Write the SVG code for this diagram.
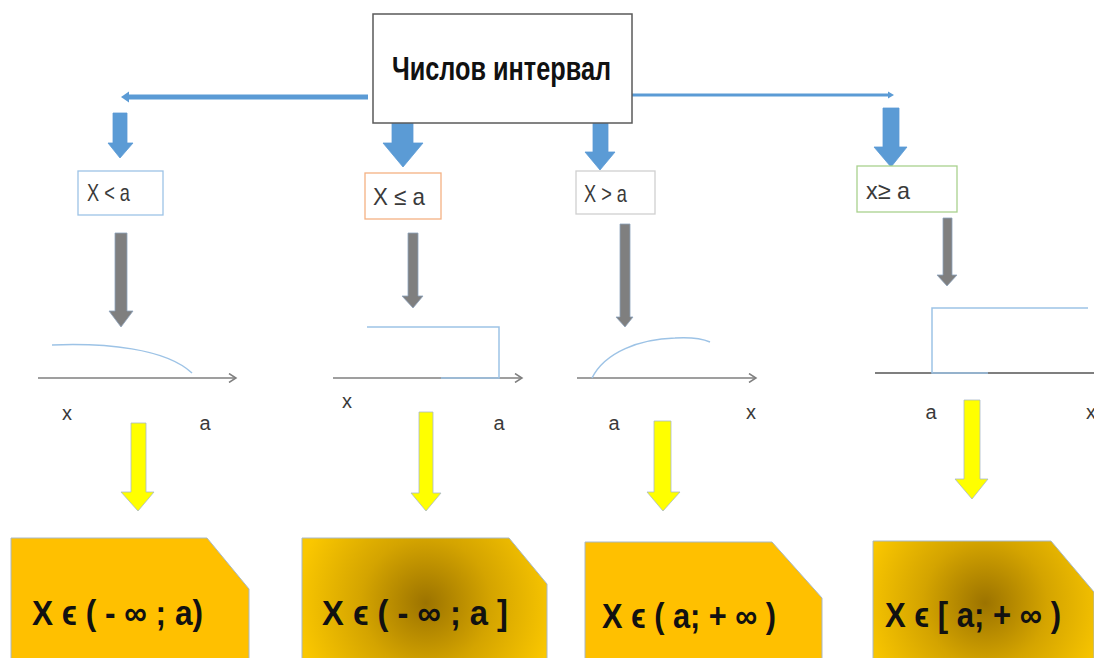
<svg xmlns="http://www.w3.org/2000/svg" width="1094" height="658" viewBox="0 0 1094 658">
<style>
.blue{fill:#5b9bd5;stroke:#5b9bd5;stroke-width:0.8}
.gray{fill:#7f7f7f;stroke:#8ea3bd;stroke-width:0.8}
.yel{fill:#ffff00;stroke:#a9b9c9;stroke-width:0.8}
.bline{stroke:#5b9bd5;fill:none}
.axis{stroke:#7f7f7f;stroke-width:1.5;fill:none}
.curve{stroke:#9dc3e6;stroke-width:1.5;fill:none}
.cond{fill:#fff;stroke-width:1.3}
.ct{font-family:"Liberation Sans",Arial,sans-serif;font-size:24px;fill:#3a3a3a}
.lbl{font-family:"Liberation Sans",Arial,sans-serif;font-size:20px;fill:#3a3a3a}
.res{stroke:#a8b8c8;stroke-width:1}
.rt{font-family:"Liberation Sans","DejaVu Sans",Arial,sans-serif;font-size:35px;font-weight:bold;fill:#111}
</style>
<defs>
<marker id="open" markerWidth="10" markerHeight="10" refX="8" refY="5" orient="auto" markerUnits="userSpaceOnUse">
<path d="M1,0.5 L8,5 L1,9.5" fill="none" stroke="#7f7f7f" stroke-width="1.5"/>
</marker>
<radialGradient id="g2" gradientUnits="userSpaceOnUse" cx="426" cy="603" r="130">
<stop offset="0" stop-color="#9c7300"/>
<stop offset="0.5" stop-color="#d4a400"/>
<stop offset="1" stop-color="#fac700"/>
</radialGradient>
<radialGradient id="g4" gradientUnits="userSpaceOnUse" cx="985" cy="603" r="125">
<stop offset="0" stop-color="#9c7300"/>
<stop offset="0.5" stop-color="#d4a400"/>
<stop offset="1" stop-color="#fac700"/>
</radialGradient>
</defs>
<rect width="1094" height="658" fill="#fff"/>

<g id="connectors">
<line class="bline" x1="368" y1="97" x2="126" y2="97" stroke-width="5"/>
<polygon points="121,97 129,91.5 129,102.5" fill="#5b9bd5"/>
<line class="bline" x1="632" y1="95" x2="889" y2="95" stroke-width="3"/>
<polygon points="894,95 888,91.5 888,98.5" fill="#5b9bd5"/>
<polygon class="blue" points="113,113 127,113 127,143 133,143 120,158 108,143 113,143"/>
<polygon class="blue" points="392,123 413,123 413,143 423,143 403,167 383,143 392,143"/>
<polygon class="blue" points="593,123 608,123 608,152 615,152 600,170 585,152 593,152"/>
<polygon class="blue" points="883,108 899,108 899,147 907,147 891,167 874,147 883,147"/>
<polygon class="gray" points="115,233 127,233 127,311 133,311 121,327 109,311 115,311"/>
<polygon class="gray" points="408,233 418,233 418,296 423,296 413,308 402,296 408,296"/>
<polygon class="gray" points="620,224 630,224 630,317 633,317 625,327 616,317 620,317"/>
<polygon class="gray" points="943,218 952,218 952,275 957,275 947,286 937,275 943,275"/>
<polygon class="yel" points="131,423 146,423 146,492 154,492 138,511 121,492 131,492"/>
<polygon class="yel" points="419,412 433,412 433,493 441,493 426,511 411,493 419,493"/>
<polygon class="yel" points="654,421 671,421 671,492 680,492 663,511 647,492 654,492"/>
<polygon class="yel" points="964,400 980,400 980,479 988,479 972,499 955,479 964,479"/>
</g>

<g id="main">
<rect x="373" y="14" width="259" height="109" fill="#fff" stroke="#5a5a5a" stroke-width="1.5"/>
<text x="392" y="80" textLength="219" lengthAdjust="spacingAndGlyphs" style="font-family:'Liberation Sans',Arial,sans-serif;font-size:33px;font-weight:bold;fill:#111">Числов интервал</text>
</g>

<g id="cond1">
<rect class="cond" x="78" y="171" width="85" height="44" stroke="#9dc3e6"/>
<text class="ct" x="87" y="201" textLength="43" lengthAdjust="spacingAndGlyphs">X &lt; a</text>
</g>
<g id="cond2">
<rect class="cond" x="365" y="173" width="76" height="46" stroke="#f4b183"/>
<text class="ct" x="373" y="205" textLength="52" lengthAdjust="spacingAndGlyphs">X ≤ a</text>
</g>
<g id="cond3">
<rect class="cond" x="576" y="171" width="79" height="43" stroke="#d0d0d0"/>
<text class="ct" x="584" y="202" textLength="43" lengthAdjust="spacingAndGlyphs">X &gt; a</text>
</g>
<g id="cond4">
<rect class="cond" x="857" y="166" width="100" height="46" stroke="#a9d18e"/>
<text class="ct" x="866" y="199" textLength="44" lengthAdjust="spacingAndGlyphs">x≥ a</text>
</g>

<g id="graph1">
<line class="axis" x1="38" y1="378" x2="236" y2="378" marker-end="url(#open)"/>
<path class="curve" d="M52,345 C105,343 165,348 192,373"/>
<text class="lbl" x="67" y="420" text-anchor="middle">x</text>
<text class="lbl" x="205" y="430" text-anchor="middle">a</text>
</g>
<g id="graph2">
<line class="axis" x1="333" y1="378" x2="522" y2="378" marker-end="url(#open)"/>
<path class="curve" d="M367,327 H499 V378 H441"/>
<text class="lbl" x="347" y="408" text-anchor="middle">x</text>
<text class="lbl" x="499" y="430" text-anchor="middle">a</text>
</g>
<g id="graph3">
<line class="axis" x1="577" y1="378" x2="756" y2="378" marker-end="url(#open)"/>
<path class="curve" d="M592,378 C605,352 640,339 675,338 C692,337 703,339 710,342"/>
<text class="lbl" x="614" y="430" text-anchor="middle">a</text>
<text class="lbl" x="751" y="419" text-anchor="middle">x</text>
</g>
<g id="graph4">
<line x1="875" y1="373" x2="1100" y2="373" stroke="#7f7f7f" stroke-width="2"/>
<path class="curve" d="M1088,308 H932 V373 H988"/>
<text class="lbl" x="931" y="419" text-anchor="middle">a</text>
<text class="lbl" x="1091" y="419" text-anchor="middle">x</text>
</g>

<g id="res1">
<path class="res" d="M11,538 H207 L249,589 V670 H11 Z" fill="#ffc000"/>
<text class="rt" x="32" y="625" textLength="171" lengthAdjust="spacingAndGlyphs">X ϵ ( - ∞ ; a)</text>
</g>
<g id="res2">
<path class="res" d="M302,538 H509 L547,584 V670 H302 Z" fill="url(#g2)"/>
<text class="rt" x="322" y="625" textLength="186" lengthAdjust="spacingAndGlyphs">X ϵ ( - ∞ ; a ]</text>
</g>
<g id="res3">
<path class="res" d="M585,542 H772 L822,598 V670 H585 Z" fill="#ffc000"/>
<text class="rt" x="602" y="628" textLength="174" lengthAdjust="spacingAndGlyphs">X ϵ ( a; + ∞ )</text>
</g>
<g id="res4">
<path class="res" d="M873,541 H1051 L1094,592 V670 H873 Z" fill="url(#g4)"/>
<text class="rt" x="885" y="627" textLength="176" lengthAdjust="spacingAndGlyphs">X ϵ [ a; + ∞ )</text>
</g>
</svg>
